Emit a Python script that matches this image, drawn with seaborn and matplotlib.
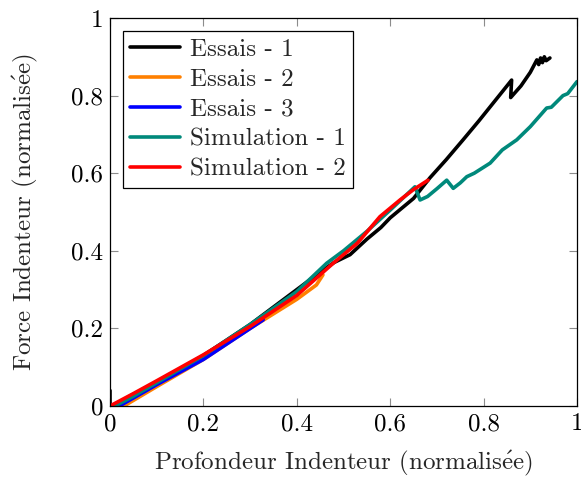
import matplotlib
matplotlib.use("Agg")
import matplotlib.pyplot as plt
import seaborn as sns
import pandas as pd

# Essais - 1
essai1_x = [0, 0, 0.005, 0.05, 0.1, 0.15, 0.2, 0.25, 0.3, 0.35, 0.4, 0.45, 0.48, 0.514,
            0.55, 0.58, 0.6, 0.65, 0.685, 0.72, 0.756, 0.79, 0.82, 0.86, 0.858, 0.88,
            0.9, 0.914, 0.918, 0.922, 0.926, 0.93, 0.934, 0.942]
essai1_y = [0.04, 0.0, 0.0, 0.03, 0.06, 0.095, 0.13, 0.17, 0.21, 0.255, 0.3, 0.345, 0.37, 0.39,
            0.43, 0.46, 0.485, 0.535, 0.588, 0.635, 0.686, 0.735, 0.78, 0.84, 0.795, 0.825,
            0.86, 0.892, 0.88, 0.897, 0.885, 0.9, 0.89, 0.897]

# Essais - 2
essai2_x = [0.03, 0.1, 0.2, 0.3, 0.336, 0.4, 0.442, 0.456]
essai2_y = [0.0, 0.05, 0.12, 0.2, 0.227, 0.275, 0.312, 0.338]

# Essais - 3
essai3_x = [0.02, 0.1, 0.2, 0.328]
essai3_y = [0.0, 0.055, 0.12, 0.222]

# Simulation - 1
simu1_x = [0.01, 0.05, 0.1, 0.2, 0.3, 0.4, 0.464, 0.5, 0.55, 0.6, 0.653, 0.664, 0.68, 0.7,
           0.721, 0.735, 0.75, 0.764, 0.78, 0.814, 0.84, 0.871, 0.9, 0.935, 0.945, 0.97,
           0.98, 1.0]
simu1_y = [0.0, 0.025, 0.06, 0.13, 0.21, 0.295, 0.368, 0.4, 0.45, 0.505, 0.565, 0.531, 0.54,
           0.56, 0.582, 0.561, 0.575, 0.591, 0.6, 0.626, 0.66, 0.686, 0.72, 0.768, 0.77,
           0.8, 0.805, 0.836]

# Simulation - 2
simu2_x = [0, 0.05, 0.1, 0.2, 0.3, 0.4, 0.478, 0.53, 0.578, 0.621, 0.649, 0.681]
simu2_y = [0, 0.032, 0.065, 0.132, 0.205, 0.285, 0.368, 0.42, 0.488, 0.531, 0.557, 0.582]

series = [
    ("Essais - 1", essai1_x, essai1_y, "black"),
    ("Essais - 2", essai2_x, essai2_y, "#ff8000"),
    ("Essais - 3", essai3_x, essai3_y, "#0000ff"),
    ("Simulation - 1", simu1_x, simu1_y, "#00897b"),
    ("Simulation - 2", simu2_x, simu2_y, "#ff0000"),
]

FS = 18

sns.set_theme(style="white")
plt.rcParams["font.family"] = ["cmr10", "DejaVu Serif"]
plt.rcParams["mathtext.fontset"] = "cm"
plt.rcParams["axes.formatter.use_mathtext"] = True
plt.rcParams["font.size"] = FS

fig = plt.figure(figsize=(5.81, 4.80), dpi=100)
ax = fig.add_axes([110 / 581, 74 / 480, 467 / 581, 388 / 480])

for name, xs, ys, col in series:
    df = pd.DataFrame({"x": xs, "y": ys})
    sns.lineplot(data=df, x="x", y="y", sort=False, estimator=None, color=col,
                 linewidth=2.6, label=name, ax=ax)

ax.set_xlim(0, 1)
ax.set_ylim(0, 1)
ticks = [0, 0.2, 0.4, 0.6, 0.8, 1]
ax.set_xticks(ticks)
ax.set_yticks(ticks)
ax.set_xticklabels([f"{t:g}" for t in ticks])
ax.set_yticklabels([f"{t:g}" for t in ticks])
ax.tick_params(direction="in", length=6, width=0.8, color="0.55", labelsize=FS,
               top=True, right=True, bottom=True, left=True, pad=5, labelcolor="black")
for sp in ax.spines.values():
    sp.set_color("black")
    sp.set_linewidth(0.9)

ax.set_xlabel(r"Profondeur Indenteur (normalis$\mathrm{\acute{e}}$e)", fontsize=FS, labelpad=10)
ax.set_ylabel(r"Force Indenteur (normalis$\mathrm{\acute{e}}$e)", fontsize=FS, labelpad=22)

leg = ax.legend(loc="upper left", fontsize=FS, frameon=True, fancybox=False,
                borderaxespad=0.5, handlelength=2.0, labelspacing=0.3,
                handletextpad=0.4, borderpad=0.3)
leg.get_frame().set_edgecolor("black")
leg.get_frame().set_linewidth(0.9)
leg.get_frame().set_alpha(1)

fig.savefig("out.png", dpi=100)
